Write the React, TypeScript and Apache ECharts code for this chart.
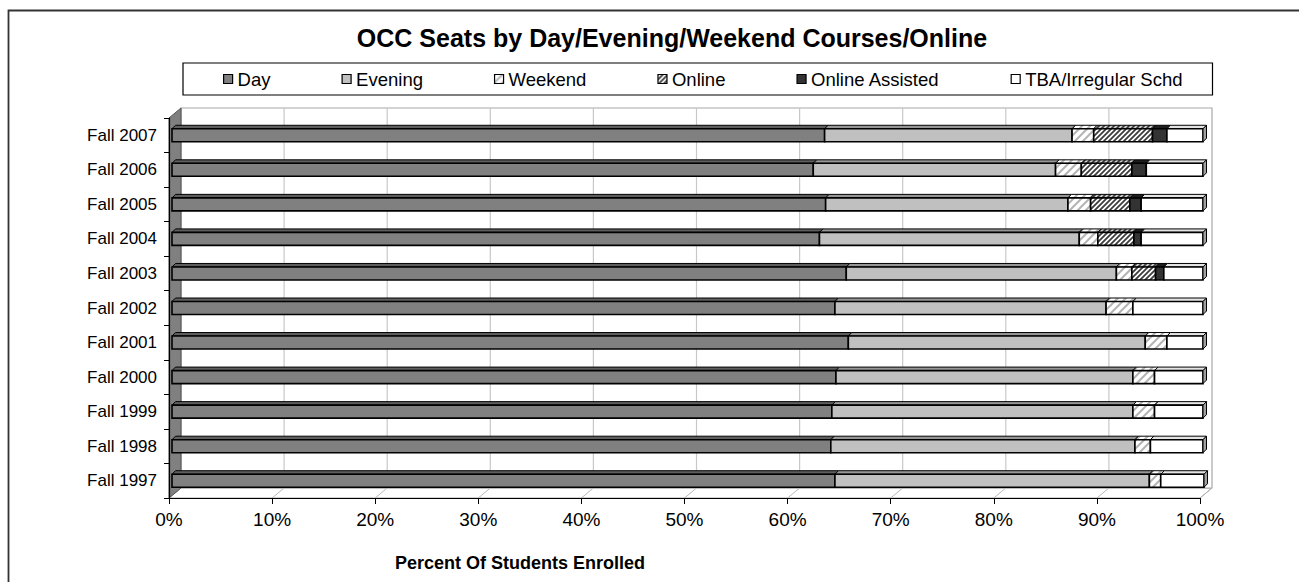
import React, { useEffect, useRef } from "react";
import * as echarts from "echarts";

// ---------- data (bottom row first; category axis draws first item at the bottom) ----------
const categories = [
  "Fall 1997", "Fall 1998", "Fall 1999", "Fall 2000", "Fall 2001", "Fall 2002",
  "Fall 2003", "Fall 2004", "Fall 2005", "Fall 2006", "Fall 2007",
];
const day = [64.3, 63.9, 64.0, 64.4, 65.6, 64.3, 65.4, 62.8, 63.4, 62.2, 63.3];
const evening = [30.5, 29.5, 29.2, 28.8, 28.8, 26.3, 26.2, 25.2, 23.5, 23.5, 24.0];
const weekend = [1.1, 1.5, 2.1, 2.1, 2.1, 2.6, 1.5, 1.8, 2.2, 2.5, 2.1];
const online = [0, 0, 0, 0, 0, 0, 2.3, 3.5, 3.8, 4.9, 5.7];
const onlineAssisted = [0, 0, 0, 0, 0, 0, 0.8, 0.7, 1.1, 1.4, 1.4];
const tba = [4.2, 5.1, 4.7, 4.7, 3.5, 6.8, 3.8, 6.0, 6.0, 5.5, 3.5];
const seriesNames = ["Day", "Evening", "Weekend", "Online", "Online Assisted", "TBA/Irregular Schd"];
const xMin = 0;
const xMax = 100;
const xStep = 10;

const TITLE = "OCC Seats by Day/Evening/Weekend Courses/Online";
const X_TITLE = "Percent Of Students Enrolled";
const FONT = '"Liberation Sans", Arial, sans-serif';

// ---------- layout ----------
const W = 1299;
const H = 582;
const GL = 169; // grid left (front plane)
const GR = 1200; // grid right
const GT = 118;
const GB = 498;
const DX = 12; // plot depth offset
const DY = 10;
const BAR_H = 13;
const BDX = 3.5; // bar depth
const BDY = 3.5;
const BOX = 3; // bar offset from front plane
const BOY = 0;

function hatch(size: number, bg: string, fg: string, lw: number) {
  const s = size;
  const svg =
    `<svg xmlns="http://www.w3.org/2000/svg" width="${s}" height="${s}">` +
    `<rect width="${s}" height="${s}" fill="${bg}"/>` +
    `<path d="M-1,1 L1,-1 M0,${s} L${s},0 M${s - 1},${s + 1} L${s + 1},${s - 1}" stroke="${fg}" stroke-width="${lw}" stroke-linecap="square"/>` +
    `</svg>`;
  return {
    image: "data:image/svg+xml;base64," + btoa(svg),
    repeat: "repeat",
    imageWidth: s,
    imageHeight: s,
  };
}

export default function App() {
  const ref = useRef<HTMLDivElement>(null);

  useEffect(() => {
    if (!ref.current) return;
    const chart = echarts.init(ref.current, undefined, { renderer: "svg" });

    const weekendFill = hatch(8, "#ffffff", "#b4b4b4", 2);
    const onlineFill = hatch(5, "#ffffff", "#3c3c3c", 1.8);
    const onlineTop = hatch(5, "#d0d0d0", "#3c3c3c", 1.8);
    const styles = [
      { fill: "#808080", top: "#5e5e5e" },
      { fill: "#c0c0c0", top: "#969696" },
      { fill: weekendFill, top: weekendFill },
      { fill: onlineFill, top: onlineTop },
      { fill: "#333333", top: "#1e1e1e" },
      { fill: "#ffffff", top: "#e4e4e4" },
    ];
    const allSeries = [day, evening, weekend, online, onlineAssisted, tba];

    const starts: number[][] = [];
    const cum = categories.map(() => 0);
    allSeries.forEach((arr) => {
      starts.push(cum.slice());
      arr.forEach((v, i) => (cum[i] += v));
    });

    const series = allSeries.map((arr, si) => {
      const isLast = si === allSeries.length - 1;
      const st = styles[si];
      return {
        type: "custom",
        name: seriesNames[si],
        coordinateSystem: "cartesian2d",
        encode: { y: 0, x: [1, 2] },
        itemStyle: { color: st.fill as any, borderColor: "#000", borderWidth: 1 },
        data: arr.map((v, i) => [i, starts[si][i], starts[si][i] + v]),
        renderItem: (params: any, api: any) => {
          const cat = api.value(0);
          const s = api.value(1);
          const e = api.value(2);
          if (!(e - s > 0)) return null;
          const p0 = api.coord([s, cat]);
          const p1 = api.coord([e, cat]);
          const x0 = p0[0] + BOX;
          const x1 = p1[0] + BOX;
          const cy = p0[1] + BOY;
          const top = cy - BAR_H / 2;
          const bot = cy + BAR_H / 2;
          const children: any[] = [
            {
              type: "polygon",
              shape: { points: [[x0, top], [x0 + BDX, top - BDY], [x1 + BDX, top - BDY], [x1, top]] },
              style: { fill: st.top, stroke: "#000", lineWidth: 1 },
            },
            {
              type: "rect",
              shape: { x: x0, y: top, width: x1 - x0, height: BAR_H },
              style: { fill: st.fill, stroke: "#000", lineWidth: 1.6 },
            },
          ];
          if (isLast) {
            children.push({
              type: "polygon",
              shape: { points: [[x1, top], [x1 + BDX, top - BDY], [x1 + BDX, bot - BDY], [x1, bot]] },
              style: { fill: "#a0a0a0", stroke: "#000", lineWidth: 1 },
            });
          }
          return { type: "group", children };
        },
      };
    });

    // decorative 3D walls
    const graphics: any[] = [];
    graphics.push({
      type: "rect",
      z: -20,
      shape: { x: 8.5, y: 10.5, width: 1400, height: 700 },
      style: { fill: "#ffffff", stroke: "#333333", lineWidth: 1.8 },
    });
    graphics.push({
      type: "rect",
      z: -10,
      shape: { x: GL + DX, y: GT - DY, width: GR - GL, height: GB - GT },
      style: { fill: "#ffffff", stroke: "#a8a8a8", lineWidth: 1.2 },
    });
    for (let v = xMin; v <= xMax; v += xStep) {
      const x = GL + ((v - xMin) / (xMax - xMin)) * (GR - GL);
      if (v > xMin && v < xMax) {
        graphics.push({
          type: "line",
          z: -9,
          shape: { x1: x + DX, y1: GT - DY, x2: x + DX, y2: GB - DY },
          style: { stroke: "#c8c8c8", lineWidth: 1.2 },
        });
      }
      graphics.push({
        type: "line",
        z: -9,
        shape: { x1: x, y1: GB, x2: x + DX, y2: GB - DY },
        style: { stroke: "#b8b8b8", lineWidth: 1 },
      });
    }
    graphics.push({
      type: "polygon",
      z: -11,
      shape: { points: [[GL, GB], [GL + DX, GB - DY], [GR + DX, GB - DY], [GR, GB]] },
      style: { fill: "#ffffff", stroke: "#a8a8a8", lineWidth: 1 },
    });
    graphics.push({
      type: "polygon",
      z: -8,
      shape: { points: [[GL, GT], [GL + DX, GT - DY], [GL + DX, GB - DY], [GL, GB]] },
      style: { fill: "#808080", stroke: "#555555", lineWidth: 1 },
    });
    graphics.push({
      type: "text",
      x: 672,
      y: 38,
      style: {
        text: TITLE,
        font: `bold 25px ${FONT}`,
        fill: "#000",
        textAlign: "center",
        textVerticalAlign: "middle",
        align: "center",
        verticalAlign: "middle",
      },
    });
    graphics.push({
      type: "text",
      x: 520,
      y: 563,
      style: {
        text: X_TITLE,
        font: `bold 18px ${FONT}`,
        fill: "#000",
        textAlign: "center",
        textVerticalAlign: "middle",
        align: "center",
        verticalAlign: "middle",
      },
    });

    const option: any = {
      animation: false,
      backgroundColor: "#ffffff",
      grid: { left: GL, right: W - GR, top: GT, bottom: H - GB, containLabel: false },
      legend: {
        left: 183,
        top: 63,
        orient: "horizontal",
        icon: "rect",
        itemWidth: 9,
        itemHeight: 9,
        itemGap: 71,
        padding: [6.5, 30, 6.5, 40],
        borderColor: "#000",
        borderWidth: 1.2,
        backgroundColor: "#ffffff",
        selectedMode: false,
        textStyle: { fontFamily: FONT, fontSize: 18.5, color: "#000" },
        data: seriesNames.map((n, i) => ({
          name: n,
          itemStyle: { color: styles[i].fill, borderColor: "#000", borderWidth: 1.2 },
        })),
      },
      xAxis: {
        type: "value",
        min: xMin,
        max: xMax,
        interval: xStep,
        axisLine: { show: true, lineStyle: { color: "#000", width: 1.2 } },
        axisTick: { show: true, length: 6, lineStyle: { color: "#000" } },
        axisLabel: { formatter: "{value}%", fontFamily: FONT, fontSize: 19, color: "#000", margin: 12 },
        splitLine: { show: false },
      },
      yAxis: {
        type: "category",
        data: categories,
        axisLine: { show: true, lineStyle: { color: "#000", width: 1.2 } },
        axisTick: { show: true, length: 5, lineStyle: { color: "#000" } },
        axisLabel: { fontFamily: FONT, fontSize: 17, color: "#000", margin: 12 },
        splitLine: { show: false },
      },
      graphic: { elements: graphics },
      series,
    };
    chart.setOption(option);
    return () => chart.dispose();
  }, []);

  return (
    <div
      ref={ref}
      style={{ position: "fixed", left: 0, top: 0, width: W, height: H, background: "#fff" }}
    />
  );
}
